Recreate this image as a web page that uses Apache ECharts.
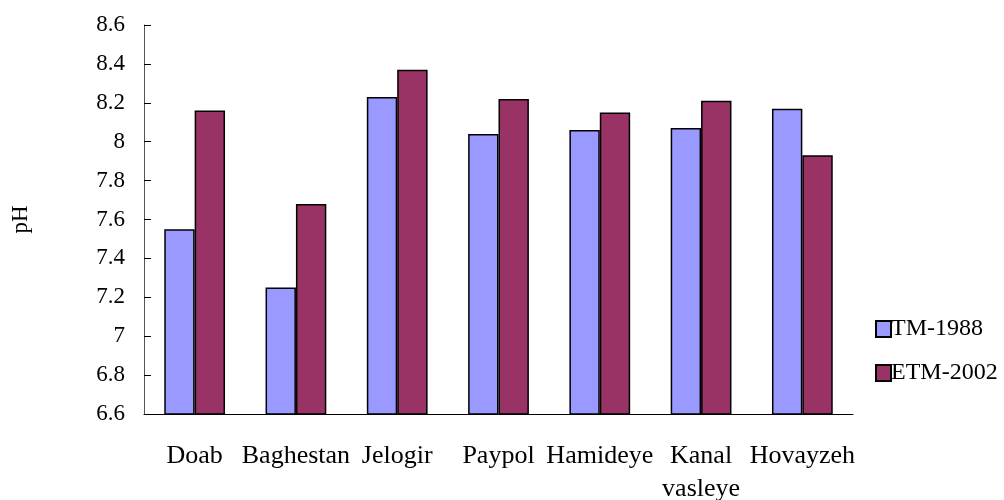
<!DOCTYPE html>
<html><head><meta charset="utf-8">
<script src="https://cdn.jsdelivr.net/npm/echarts@6/dist/echarts.min.js"></script>
<style>html,body{margin:0;padding:0;background:#fff;overflow:hidden}#c{width:1004px;height:500px}</style>
</head><body><div id="c"></div>
<script>
const categories = ['Doab', 'Baghestan', 'Jelogir', 'Paypol', 'Hamideye', 'Kanal\nvasleye', 'Hovayzeh'];
const tm1988 = [7.55, 7.25, 8.23, 8.04, 8.06, 8.07, 8.17];
const etm2002 = [8.16, 7.68, 8.37, 8.22, 8.15, 8.21, 7.93];
const seriesNames = ['TM-1988', 'ETM-2002'];
const yAxisName = 'pH';

const font = 'Liberation Serif, Times New Roman, serif';
const chart = echarts.init(document.getElementById('c'), null, {renderer: 'canvas', width: 1004, height: 500});
chart.setOption({
  animation: false,
  textStyle: {fontFamily: font},
  grid: {left: 144, width: 709, top: 25, height: 389, containLabel: false, outerBoundsMode: 'none'},
  legend: {
    orient: 'vertical', left: 870, top: 312, itemGap: 20,
    itemWidth: 15, itemHeight: 16, icon: 'rect',
    textStyle: {fontFamily: font, fontSize: 24, color: '#000', padding: [0,0,0,-5]},
    data: seriesNames
  },
  xAxis: {
    type: 'category', data: categories,
    axisLine: {lineStyle: {color: '#000', width: 1}},
    axisTick: {inside: true, length: 8, lineStyle: {color: '#000'}},
    axisLabel: {fontFamily: font, fontSize: 26, color: '#000', margin: 26, lineHeight: 33, interval: 0}
  },
  yAxis: {
    type: 'value', min: 6.6, max: 8.6, interval: 0.2,
    name: yAxisName, nameLocation: 'middle', nameGap: 112, nameRotate: 90,
    nameTextStyle: {fontFamily: font, fontSize: 23, fontWeight: 'normal', color: '#000'},
    splitLine: {show: false},
    axisLine: {show: true, lineStyle: {color: '#555', width: 1}},
    axisTick: {show: true, inside: true, length: 7, lineStyle: {color: '#000'}},
    axisLabel: {fontFamily: font, fontSize: 23, color: '#000', margin: 19,
      formatter: v => String(Math.round(v * 10) / 10)}
  },
  series: [
    {name: seriesNames[0], type: 'bar', data: tm1988, barGap: '0%', barCategoryGap: '40%',
     itemStyle: {color: '#9999ff', borderColor: '#000', borderWidth: 1.5}},
    {name: seriesNames[1], type: 'bar', data: etm2002,
     itemStyle: {color: '#993366', borderColor: '#000', borderWidth: 1.5}}
  ]
});
</script></body></html>
